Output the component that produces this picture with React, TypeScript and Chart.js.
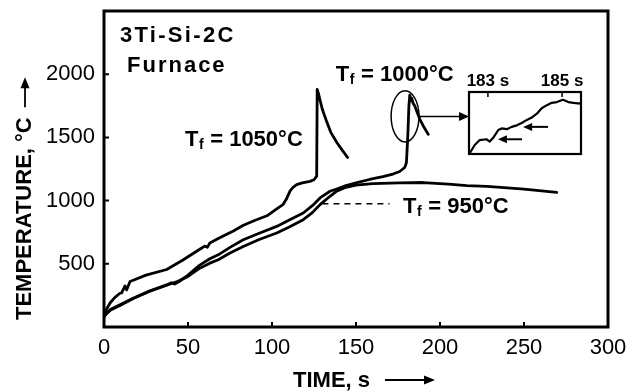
import React, { useEffect, useRef } from "react";
import { Chart, registerables } from "chart.js";

Chart.register(...registerables);

// ---------- data ----------
const xTickValues = [0, 50, 100, 150, 200, 250, 300];
const yTickValues = [500, 1000, 1500, 2000];

// T_f = 1050 °C run
const timeA = [0, 1.5, 3.6, 6.5, 9.5, 10.5, 12.5, 13.5, 15.5, 17.4, 25, 37.3, 47, 57, 60, 61.5, 63, 68, 77, 83, 90, 97, 102.8, 106.5, 108.5, 110.7, 112.5, 114.7, 118, 122.6, 125, 126.6, 126.9, 127.6, 128.5, 130, 132.7, 135, 138.6, 142, 145];
const tempA = [95, 140, 190, 235, 267, 270, 325, 294, 360, 370, 410, 455, 530, 615, 640, 630, 665, 700, 760, 805, 845, 880, 935, 968, 1010, 1075, 1105, 1127, 1140, 1152, 1165, 1193, 1880, 1850, 1800, 1720, 1619, 1540, 1460, 1395, 1341];

// T_f = 1000 °C run
const timeB = [0, 1.5, 4, 9.5, 17.4, 27, 37.3, 40, 42, 45, 50, 57, 63, 68, 75, 82.9, 92, 102.8, 110, 118.6, 124, 128.6, 134.5, 138.5, 144, 150, 158, 166, 172, 176, 179, 180, 180.8, 181.5, 182, 182.6, 183.2, 184, 185, 188, 190.5, 193];
const tempB = [85, 110, 140, 175, 228, 285, 333, 350, 340, 362, 410, 490, 540, 571, 630, 690, 740, 796, 845, 902, 960, 1021, 1074, 1092, 1118, 1140, 1167, 1190, 1210, 1230, 1262, 1300, 1500, 1750, 1835, 1790, 1810, 1770, 1749, 1643, 1580, 1524];

// T_f = 950 °C run
const timeC = [0, 1.5, 4, 9.5, 17.4, 27, 37.3, 44, 50, 57, 63, 68, 75, 82.9, 92, 102.8, 110, 118.6, 124, 128.6, 134.5, 138.5, 144, 150, 160, 176, 190, 205, 216, 228, 250, 269.5];
const tempC = [80, 105, 135, 170, 225, 282, 330, 362, 400, 465, 505, 532, 585, 637, 690, 744, 790, 849, 905, 968, 1034, 1075, 1105, 1122, 1135, 1140, 1143, 1130, 1118, 1112, 1090, 1065];

// inset: detail of the 1000 °C peak
const insetTime = [182.51, 182.65, 182.78, 182.96, 183.05, 183.16, 183.28, 183.37, 183.51, 183.64, 183.78, 183.91, 184.05, 184.18, 184.32, 184.45, 184.59, 184.72, 184.86, 185.02, 185.17, 185.31, 185.49];
const insetTemp = [1761, 1772, 1778, 1779, 1776, 1782, 1791, 1793, 1792, 1795, 1797, 1800, 1804, 1807, 1812, 1819, 1823, 1826, 1827, 1830, 1827, 1826, 1825];
const insetTicks = [183, 185];

const dashedLevel = 975;
const dashedFrom = 130;
const dashedTo = 170;

// ---------- helpers ----------
const SANS = '"Liberation Sans", Arial, Helvetica, sans-serif';

function toPoints(xs: number[], ys: number[]) {
  return xs.map((v, i) => ({ x: v, y: ys[i] }));
}

function arrowHead(ctx: CanvasRenderingContext2D, tx: number, ty: number, angle: number, len = 10, half = 4) {
  ctx.save();
  ctx.translate(tx, ty);
  ctx.rotate(angle);
  ctx.beginPath();
  ctx.moveTo(0, 0);
  ctx.lineTo(-len, -half);
  ctx.lineTo(-len, half);
  ctx.closePath();
  ctx.fill();
  ctx.restore();
}

function drawTf(ctx: CanvasRenderingContext2D, x: number, y: number, rest: string) {
  ctx.textAlign = "left";
  ctx.textBaseline = "alphabetic";
  ctx.font = `bold 22px ${SANS}`;
  ctx.fillText("T", x, y);
  const w = ctx.measureText("T").width;
  ctx.font = `bold 14px ${SANS}`;
  ctx.fillText("f", x + w + 0.5, y + 3);
  const w2 = ctx.measureText("f").width;
  ctx.font = `bold 22px ${SANS}`;
  ctx.fillText(rest, x + w + w2 + 1, y);
}

const mainDecor = {
  id: "mainDecor",
  afterDraw(chart: any) {
    const { ctx, chartArea: a } = chart;
    const xs = chart.scales.x;
    const ys = chart.scales.y;
    const X = (v: number) => xs.getPixelForValue(v);
    const Y = (v: number) => ys.getPixelForValue(v);
    ctx.save();
    ctx.fillStyle = "#000";
    ctx.strokeStyle = "#000";

    // frame
    ctx.lineWidth = 3;
    ctx.strokeRect(a.left, a.top, a.right - a.left, a.bottom - a.top);

    // inward tick marks
    ctx.lineWidth = 2;
    ctx.beginPath();
    xTickValues.forEach((v) => {
      const px = X(v);
      ctx.moveTo(px, a.bottom);
      ctx.lineTo(px, a.bottom - 5);
    });
    yTickValues.forEach((v) => {
      const py = Y(v);
      ctx.moveTo(a.left, py);
      ctx.lineTo(a.left + 5, py);
    });
    ctx.stroke();

    // title text
    ctx.textAlign = "left";
    ctx.textBaseline = "alphabetic";
    ctx.font = `bold 22px ${SANS}`;
    (ctx as any).letterSpacing = "2.3px";
    ctx.fillText("3Ti-Si-2C", X(9.5), Y(2254));
    (ctx as any).letterSpacing = "2px";
    ctx.fillText("Furnace", X(13.7), Y(2016));
    (ctx as any).letterSpacing = "0px";

    // T_f labels
    drawTf(ctx, X(48.2), Y(1429), " = 1050°C");
    drawTf(ctx, X(138), Y(1944), " = 1000°C");
    drawTf(ctx, X(178), Y(905), " = 950°C");

    // dashed marker
    ctx.lineWidth = 1.5;
    ctx.setLineDash([6, 5]);
    ctx.beginPath();
    ctx.moveTo(X(dashedFrom), Y(dashedLevel));
    ctx.lineTo(X(dashedTo), Y(dashedLevel));
    ctx.stroke();
    ctx.setLineDash([]);

    // ellipse around the 1000 °C peak
    const ex0 = X(170.9), ex1 = X(187.5), ey0 = Y(1869), ey1 = Y(1464);
    ctx.lineWidth = 1.5;
    ctx.beginPath();
    ctx.ellipse((ex0 + ex1) / 2, (ey0 + ey1) / 2, (ex1 - ex0) / 2, (ey1 - ey0) / 2, 0, 0, Math.PI * 2);
    ctx.stroke();

    // connector arrow to inset
    const ay = Y(1665);
    const ax1 = X(217.3);
    ctx.beginPath();
    ctx.moveTo(ex1, ay);
    ctx.lineTo(ax1 - 8, ay);
    ctx.stroke();
    arrowHead(ctx, ax1, ay, 0, 10, 4.5);

    // x-axis title
    ctx.font = `bold 22px ${SANS}`;
    ctx.textAlign = "left";
    ctx.textBaseline = "alphabetic";
    const xtLeft = a.left + 189;
    const xtBase = a.bottom + 60;
    ctx.fillText("TIME, s", xtLeft, xtBase);
    const xw = ctx.measureText("TIME, s").width;
    const xaStart = xtLeft + xw + 15;
    const xaEnd = xaStart + 50;
    ctx.lineWidth = 1.8;
    ctx.beginPath();
    ctx.moveTo(xaStart, xtBase - 7);
    ctx.lineTo(xaEnd - 8, xtBase - 7);
    ctx.stroke();
    arrowHead(ctx, xaEnd, xtBase - 7, 0, 11, 4.5);

    // y-axis title
    ctx.save();
    ctx.translate(a.left - 79, a.bottom - 7);
    ctx.rotate(-Math.PI / 2);
    ctx.textBaseline = "middle";
    ctx.fillText("TEMPERATURE, °C", 0, 0);
    const yw = ctx.measureText("TEMPERATURE, °C").width;
    ctx.beginPath();
    ctx.moveTo(yw + 10, 0);
    ctx.lineTo(yw + 32, 0);
    ctx.stroke();
    arrowHead(ctx, yw + 40, 0, 0, 11, 4.5);
    ctx.restore();

    ctx.restore();
  },
};

const insetDecor = {
  id: "insetDecor",
  afterDraw(chart: any) {
    const { ctx, chartArea: a } = chart;
    const xs = chart.scales.x;
    const ys = chart.scales.y;
    const X = (v: number) => xs.getPixelForValue(v);
    const Y = (v: number) => ys.getPixelForValue(v);
    ctx.save();
    ctx.strokeStyle = "#000";
    ctx.fillStyle = "#000";
    ctx.lineWidth = 2.2;
    ctx.strokeRect(a.left, a.top, a.right - a.left, a.bottom - a.top);
    ctx.lineWidth = 1.5;
    ctx.beginPath();
    insetTicks.forEach((v) => {
      ctx.moveTo(X(v), a.top);
      ctx.lineTo(X(v), a.top + 5);
    });
    ctx.stroke();
    // pointer arrows
    const arrows = [
      { from: 184.62, to: 183.95, at: 1795 },
      { from: 183.92, to: 183.27, at: 1779 },
    ];
    ctx.lineWidth = 2;
    arrows.forEach((r) => {
      const py = Y(r.at);
      ctx.beginPath();
      ctx.moveTo(X(r.from), py);
      ctx.lineTo(X(r.to) + 6, py);
      ctx.stroke();
      arrowHead(ctx, X(r.to), py, Math.PI, 9, 4);
    });
    ctx.restore();
  },
};

export default function App() {
  const mainRef = useRef<HTMLCanvasElement | null>(null);
  const insetRef = useRef<HTMLCanvasElement | null>(null);

  useEffect(() => {
    if (!mainRef.current || !insetRef.current) return;
    const lineStyle = {
      borderColor: "#000",
      borderWidth: 2.8,
      pointRadius: 0,
      fill: false,
      tension: 0,
      borderJoinStyle: "round" as const,
      borderCapStyle: "round" as const,
    };
    const main = new Chart(mainRef.current, {
      type: "line",
      data: {
        datasets: [
          { ...lineStyle, data: toPoints(timeA, tempA) },
          { ...lineStyle, data: toPoints(timeB, tempB) },
          { ...lineStyle, data: toPoints(timeC, tempC) },
        ],
      },
      options: {
        responsive: false,
        animation: false,
        devicePixelRatio: 1,
        layout: { padding: { top: 11, right: 23, left: 0, bottom: 0 } },
        plugins: { legend: { display: false }, tooltip: { enabled: false } },
        scales: {
          x: {
            type: "linear",
            min: 0,
            max: 300,
            afterBuildTicks: (s: any) => {
              s.ticks = xTickValues.map((v) => ({ value: v }));
            },
            afterFit: (s: any) => {
              s.height = 64;
              s.paddingLeft = 0;
              s.paddingRight = 0;
            },
            grid: { display: false, drawTicks: false },
            border: { display: false },
            ticks: {
              color: "#000",
              font: { family: SANS, size: 22 },
              padding: 8,
              maxRotation: 0,
              autoSkip: false,
              callback: (v: any) => String(v),
            },
          },
          y: {
            type: "linear",
            min: 0,
            max: 2500,
            afterBuildTicks: (s: any) => {
              s.ticks = yTickValues.map((v) => ({ value: v }));
            },
            afterFit: (s: any) => {
              s.width = 104;
              s.paddingTop = 0;
              s.paddingBottom = 0;
            },
            grid: { display: false, drawTicks: false },
            border: { display: false },
            ticks: {
              color: "#000",
              font: { family: SANS, size: 22 },
              padding: 9,
              autoSkip: false,
              callback: (v: any) => String(v),
            },
          },
        },
      },
      plugins: [mainDecor],
    });

    const inset = new Chart(insetRef.current, {
      type: "line",
      data: {
        datasets: [
          { ...lineStyle, borderWidth: 2.2, data: toPoints(insetTime, insetTemp) },
        ],
      },
      options: {
        responsive: false,
        animation: false,
        devicePixelRatio: 1,
        layout: { padding: { top: 0, right: 14, left: 14, bottom: 4 } },
        plugins: { legend: { display: false }, tooltip: { enabled: false } },
        scales: {
          x: {
            type: "linear",
            position: "top",
            min: 182.49,
            max: 185.51,
            afterBuildTicks: (s: any) => {
              s.ticks = insetTicks.map((v) => ({ value: v }));
            },
            afterFit: (s: any) => {
              s.height = 24;
              s.paddingLeft = 0;
              s.paddingRight = 0;
            },
            grid: { display: false, drawTicks: false },
            border: { display: false },
            ticks: {
              color: "#000",
              font: { family: SANS, size: 17, weight: "bold" },
              padding: 0,
              maxRotation: 0,
              autoSkip: false,
              callback: (v: any) => `${v} s`,
            },
          },
          y: { type: "linear", min: 1760, max: 1840, display: false },
        },
      },
      plugins: [insetDecor],
    });

    return () => {
      main.destroy();
      inset.destroy();
    };
  }, []);

  return (
    <div style={{ position: "absolute", left: 0, top: 0, width: 631, height: 391, background: "#fff" }}>
      <canvas ref={mainRef} width={631} height={391} style={{ display: "block", width: 631, height: 391 }} />
      <canvas
        ref={insetRef}
        width={140}
        height={90}
        style={{ position: "absolute", left: 455, top: 68, width: 140, height: 90 }}
      />
    </div>
  );
}
